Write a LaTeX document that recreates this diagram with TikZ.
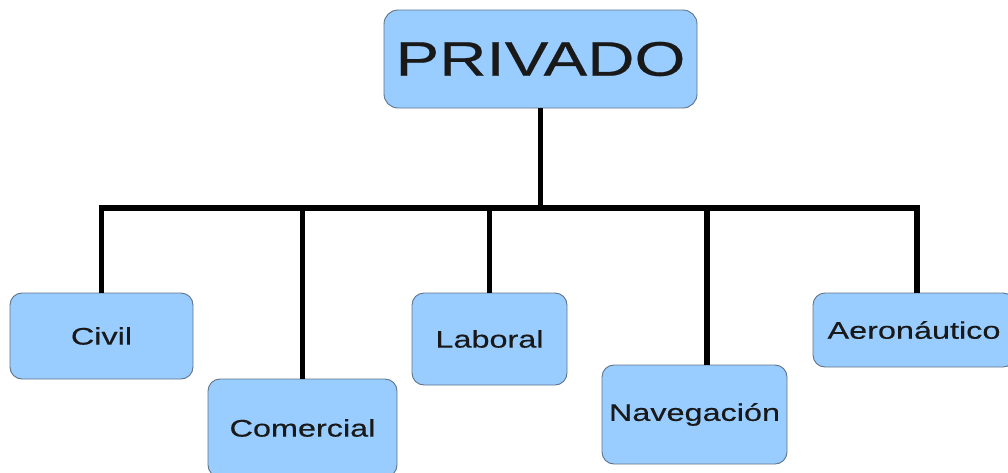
\documentclass[tikz,border=0pt]{standalone}
\usepackage{fontspec}
\setmainfont[FakeStretch=1.35,FakeBold=0.4]{Liberation Sans}
\definecolor{boxfill}{RGB}{153,204,255}
\definecolor{boxline}{RGB}{95,115,135}
\definecolor{txt}{RGB}{25,25,25}
\begin{document}
\begin{tikzpicture}[x=1pt,y=-1pt,
  box/.style={draw=boxline,line width=0.9pt,fill=boxfill,rounded corners=12pt,
    inner sep=0pt,text=txt,font=\fontsize{24}{28}\selectfont},
  conn/.style={line width=5.5pt,black,line join=miter}]
\useasboundingbox (0,0) rectangle (1008,472);
\clip (0,0) rectangle (1008,472);
\node[box,minimum width=313pt,minimum height=98pt,rounded corners=14pt,
  font=\fontsize{48.5}{54}\selectfont] (P) at (540.5,59) {PRIVADO};
\node[box,minimum width=183pt,minimum height=86pt] (civil) at (101.5,336) {Civil};
\node[box,minimum width=189pt,minimum height=98pt] (com) at (302.5,428) {Comercial};
\node[box,minimum width=155pt,minimum height=92pt] (lab) at (489.5,339) {Laboral};
\node[box,minimum width=185pt,minimum height=99pt] (nav) at (694.5,414.5) {Navegación};
\node[box,minimum width=202pt,minimum height=74pt] (aero) at (914,330) {Aeronáutico};
\coordinate (j) at (540.5,208);
\draw[conn] (P.south) -- (j);
\draw[conn] (civil.north) |- (j) -| ([xshift=3pt]aero.north);
\draw[conn] (com.north) -- (com.north |- j);
\draw[conn] (lab.north) -- (lab.north |- j);
\draw[conn] ([xshift=12.5pt]nav.north) -- ([xshift=12.5pt]nav.north |- j);
\end{tikzpicture}
\end{document}
